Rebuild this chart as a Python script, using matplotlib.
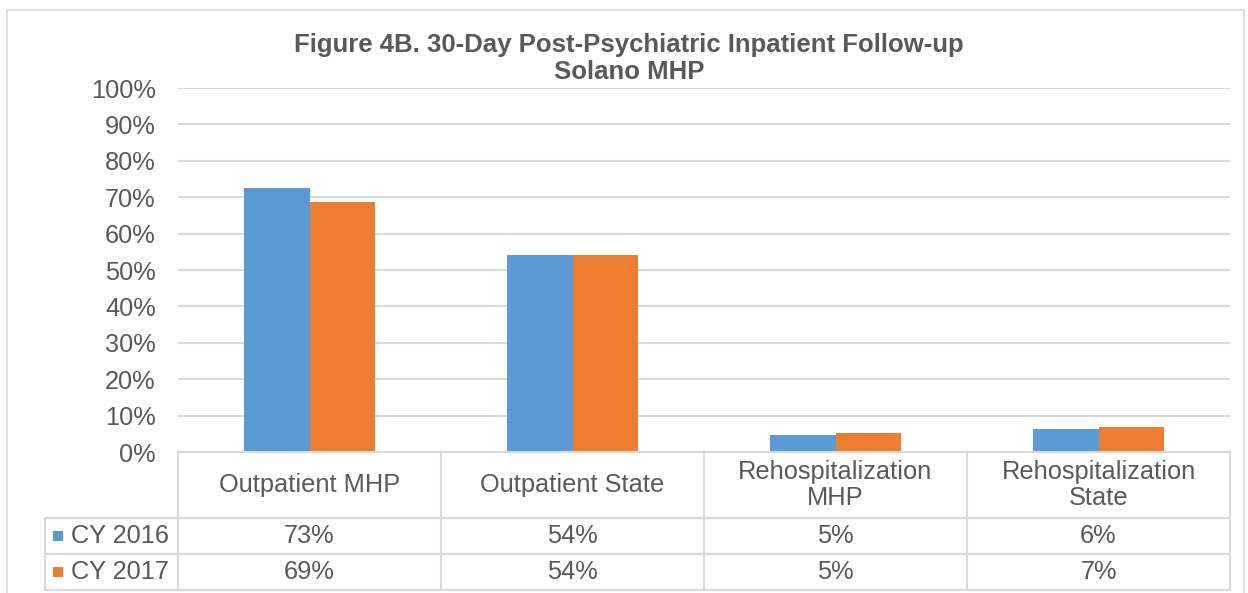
import matplotlib.pyplot as plt
import matplotlib.transforms as mtransforms
from matplotlib.patches import Rectangle
from matplotlib.lines import Line2D

categories = ["Outpatient MHP", "Outpatient State", "Rehospitalization\nMHP", "Rehospitalization\nState"]
series = ["CY 2016", "CY 2017"]
cy2016 = [72.6, 54.1, 4.7, 6.3]
cy2017 = [68.7, 54.0, 5.2, 6.8]
cy2016_lbl = ["73%", "54%", "5%", "6%"]
cy2017_lbl = ["69%", "54%", "5%", "7%"]

BLUE = "#5B9BD5"
ORANGE = "#ED7D31"
TXT = "#595959"
GRID = "#D9D9D9"

plt.rcParams['font.family'] = ['Liberation Sans', 'DejaVu Sans']

W, H = 1248, 593
fig = plt.figure(figsize=(W / 100, H / 100), dpi=100)


def fx(px):
    return px / W


def fy(py):
    return 1 - py / H


# plot area in pixels: x 178..1230, y 88..452
ax = fig.add_axes([fx(178), fy(452), fx(1230) - fx(178), fy(88) - fy(452)])

x = list(range(len(categories)))
bw = 0.25
ax.bar([i - bw / 2 for i in x], cy2016, width=bw, color=BLUE, zorder=3)
ax.bar([i + bw / 2 for i in x], cy2017, width=bw, color=ORANGE, zorder=3)

ax.set_xlim(-0.5, len(categories) - 0.5)
ax.set_ylim(0, 100)
ax.set_yticks(range(0, 101, 10))
ax.set_yticklabels([f"{v}%" for v in range(0, 101, 10)], fontsize=18.3, color=TXT)
ax.tick_params(axis='y', length=0, pad=16)
ax.set_xticks([])
ax.yaxis.grid(True, color=GRID, linewidth=1.5, zorder=0)
for s in ax.spines.values():
    s.set_visible(False)

# title
fig.text(fx(629), fy(45), "Figure 4B. 30-Day Post-Psychiatric Inpatient Follow-up",
         ha='center', va='center', fontsize=18.5, fontweight='bold', color=TXT)
fig.text(fx(629), fy(72), "Solano MHP",
         ha='center', va='center', fontsize=18.5, fontweight='bold', color=TXT)

# data table below the axis
bt = mtransforms.blended_transform_factory(ax.transData, fig.transFigure)
row_y = [452, 518, 554, 590]
lw = 1.5
left_px = 45

# horizontal lines
fig.add_artist(Line2D([fx(178), fx(1230)], [fy(row_y[0])] * 2, color=GRID, lw=lw))
for yy in row_y[1:]:
    fig.add_artist(Line2D([fx(left_px), fx(1230)], [fy(yy)] * 2, color=GRID, lw=lw))
# vertical lines
for i in range(len(categories) + 1):
    fig.add_artist(Line2D([i - 0.5, i - 0.5], [fy(row_y[0]), fy(row_y[-1])],
                          color=GRID, lw=lw, transform=bt))
fig.add_artist(Line2D([fx(left_px)] * 2, [fy(row_y[1]), fy(row_y[-1])], color=GRID, lw=lw))

# header and values
for i, c in enumerate(categories):
    fig.text(i, fy((row_y[0] + row_y[1]) / 2), c, transform=bt, ha='center', va='center',
             fontsize=18.3, color=TXT, linespacing=1.1)
    fig.text(i, fy((row_y[1] + row_y[2]) / 2), cy2016_lbl[i], transform=bt,
             ha='center', va='center', fontsize=18.3, color=TXT)
    fig.text(i, fy((row_y[2] + row_y[3]) / 2), cy2017_lbl[i], transform=bt,
             ha='center', va='center', fontsize=18.3, color=TXT)

# row labels with legend keys
for k, (name, col) in enumerate(zip(series, [BLUE, ORANGE])):
    yc = (row_y[k + 1] + row_y[k + 2]) / 2
    fig.add_artist(Rectangle((fx(53), fy(yc + 5)), fx(10), fy(yc - 5) - fy(yc + 5),
                             facecolor=col, edgecolor='none'))
    fig.text(fx(71), fy(yc), name, ha='left', va='center', fontsize=18.3, color=TXT)

# outer chart frame
fig.add_artist(Rectangle((fx(7), fy(620)), fx(1244) - fx(7), fy(10) - fy(620),
                         facecolor='none', edgecolor=GRID, lw=1.2))

fig.savefig("out.png", dpi=100)
